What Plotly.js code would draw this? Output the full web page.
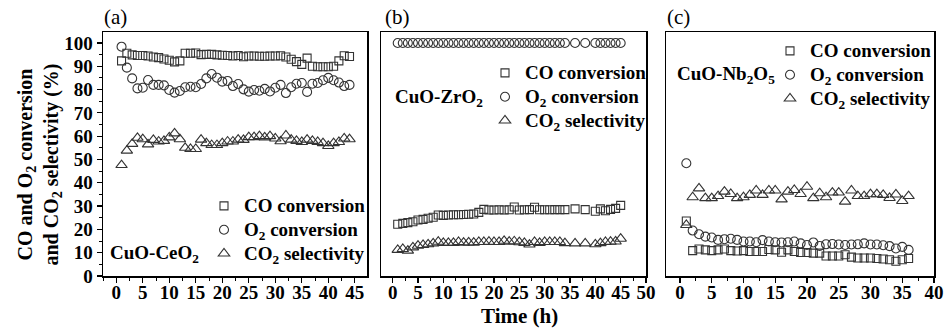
<!DOCTYPE html>
<html>
<head>
<meta charset="utf-8">
<script src="https://cdn.plot.ly/plotly-3.0.1.min.js"></script>
<style>html,body{margin:0;padding:0;background:#fff;}#chart{width:945px;height:328px;}</style>
</head>
<body>
<div id="chart"></div>
<script>
// ---- Data ----
const seriesNames = ["CO conversion", "O<sub>2</sub> conversion", "CO<sub>2</sub> selectivity"];
const catalystNames = ["CuO-CeO<sub>2</sub>", "CuO-ZrO<sub>2</sub>", "CuO-Nb<sub>2</sub>O<sub>5</sub>"];
const panelLabels = ["(a)", "(b)", "(c)"];

const timeA = [1,2,3,4,5,6,7,8,9,10,11,12,13,14,15,16,17,18,19,20,21,22,23,24,25,26,27,28,29,30,31,32,33,34,35,36,37,38,39,40,41,42,43,44];
const coA = [92.3,95.6,94.9,94.6,94.6,94.4,94,93.7,93.1,92.6, 91.9,92.3,95.6,95.6,95.7,95,95.1,95.1,94.9,94.7, 94.6,94.4,94.6,94.1,94.4,94.4,94.3,94.3,94.4,94.4, 94.5,94,93,92,90.8,93.5,90,89.8,89.8,89.8, 90,92.3,94.5,94.2];
const o2A = [98.4,89.4,84.8,80.5,80.8,84.1,82,82,81.8,79.8, 78.7,79.4,81,81.2,81,82.4,84.8,86.7,85.1,83.4, 83.7,81.5,82.4,80.1,79.1,79.8,79.5,80.3,79.2,80.8, 82,78.5,81,82.5,82.8,79,82.5,82.8,84,85, 84,83,81.5,82];
const co2A = [47.6,53.8,56.7,59.3,58.7,56.5,58.4,57.7,58,59.5, 61.2,58.7,55,54.5,54.5,58.5,57,56.2,56.2,57, 57.7,57.7,58.5,58.4,59.6,59.6,60,59.5,60,59, 57.8,60.3,58.5,58,57.5,58.5,58,57.5,57,55.8, 57,57.5,59,58.7];

const timeB = [1,2,3,4,5,6,7,8,9,10,11,12,13,14,15,16,17,18,19,20,21,22,23,24,25,26,27,28,29,30,31,32,33,34,36,38,40,41,42,43,44,45];
const coB = [22.2,22.6,22.9,23.3,24,24.3,24.8,25.2,26.2,26, 26.2,26.3,26.3,26.4,26.5,26.6,27.3,28.6,28.3,28.3, 28.4,28.3,28.4,29.6,28.3,28.4,28.5,29.5,28.4,28.4, 28.4,28.5,28.5,28.5,28.8,28.5,27.8,28.8,28,28.6,29,30.3];
const o2B = [100,100,100,100,100,100,100,100,100,100, 100,100,100,100,100,100,100,100,100,100, 100,100,100,100,100,100,100,100,100,100, 100,100,100,100,100,100,100,100,100,100,100,100];
const co2B = [11.2,11.6,10.9,12.3,13,13.3,13.6,14,14.7,14.2, 14.2,14.2,14.6,14.3,14.4,14.3,14.6,14.6,14.7,14.6, 14.6,15.1,14.7,14.9,14.5,14.2,13.5,14.6,14.2,14.6, 14.6,14.6,14.6,14.1,14,14,13.6,14.1,14.6,14.7,14.8,16];

const timeC = [1,2,3,4,5,6,7,8,9,10,11,12,13,14,15,16,17,18,19,20,21,22,23,24,25,26,27,28,29,30,31,32,33,34,35,36];
const coC = [23.6,10.9,11.6,11.2,10.9,11.2,11.6,10.9,10.7,10.9, 10.5,10.5,10.5,11.4,11.2,10.2,11.2,10.5,10.1,10.1, 9.8,9.8,8.6,8.6,8.6,9.1,8.1,7.7,7.7,7.7, 7.5,7.3,7,6.3,7,7.5];
const o2C = [48.4,19.5,17.9,16.9,16.5,15.5,15.8,16,15.5,14.8, 14.8,14.5,15.4,14.8,14.5,14.4,14.5,14.8,14,13.3, 14.4,12.9,13.6,13.7,13.5,13.3,13.5,13.6,14,13.5, 13.5,13.2,12.8,11.8,12.5,11.2];
const co2C = [21.9,33.8,37.6,33.4,33.4,34.3,36.2,35.2,33.4,33.8, 34.8,36.7,34.8,36.7,36.7,32.9,36.2,36.9,35.2,38.3, 33.4,35.5,33.8,35.8,35.8,31.9,36.7,34.3,34.3,35.1, 35.1,34.8,33.5,35,32.2,34.3];

const yTicks = [0,10,20,30,40,50,60,70,80,90,100];

// ---- Styling ----
const W = 945, H = 328;
const FONT = "Liberation Serif, Times New Roman, serif";
const ink = "#333";
const symbols = ["square-open", "circle-open", "triangle-up-open"];
const msizes = [8, 9, 10];
const px = v => v / W;
const py = v => 1 - v / H;

const panels = [
  {t: timeA, s: [coA, o2A, co2A], xa: "x", ya: "y", leg: "legend"},
  {t: timeB, s: [coB, o2B, co2B], xa: "x2", ya: "y2", leg: "legend2"},
  {t: timeC, s: [coC, o2C, co2C], xa: "x3", ya: "y3", leg: "legend3"}
];

const traces = [];
panels.forEach(p => {
  p.s.forEach((vals, i) => {
    traces.push({
      type: "scatter", mode: "markers", x: p.t, y: vals,
      xaxis: p.xa, yaxis: p.ya,
      name: '<span style="font-size:19px">' + seriesNames[i] + '</span>',
      legend: p.leg,
      marker: {symbol: symbols[i], size: msizes[i], color: ink, line: {color: ink, width: 1.1}},
      hoverinfo: "skip"
    });
  });
});

const tickFont = {family: FONT, size: 19, color: "#000", weight: "bold"};
const yDom = [py(276), py(32)];
function xAxis(dom, range, yref) {
  return {
    domain: dom, range: range, anchor: yref,
    tickmode: "linear", tick0: 0, dtick: 5,
    ticks: "outside", ticklen: 5, tickwidth: 1.2, tickcolor: "#000",
    ticklabelstandoff: -6,
    minor: {ticks: "outside", dtick: 2.5, ticklen: 3, tickwidth: 1, tickcolor: "#000"},
    showline: true, mirror: true, linecolor: "#000", linewidth: 1.5,
    showgrid: false, zeroline: false, tickfont: tickFont, fixedrange: true
  };
}
function yAxis(xref, showLabels) {
  return {
    domain: yDom, range: [0, 104.7], anchor: xref,
    tickmode: "array", tickvals: yTicks,
    ticks: showLabels ? "outside" : "", ticklen: 5, tickwidth: 1.2, tickcolor: "#000",
    minor: showLabels ? {ticks: "outside", dtick: 5, tick0: 0, ticklen: 3, tickwidth: 1, tickcolor: "#000"} : {ticks: ""},
    showticklabels: showLabels,
    showline: true, mirror: true, linecolor: "#000", linewidth: 1.5,
    showgrid: false, zeroline: false, tickfont: tickFont, fixedrange: true
  };
}

const legFont = {family: FONT, size: 16, color: "#000", weight: "bold"};
function legend(xp, yp) {
  return {x: px(xp), y: py(yp), xanchor: "left", yanchor: "top", bgcolor: "rgba(0,0,0,0)",
          borderwidth: 0, font: legFont, traceorder: "normal", itemclick: false, itemdoubleclick: false};
}

function ann(text, x, y, opts) {
  return Object.assign({
    text: text, x: px(x), y: py(y), xref: "paper", yref: "paper",
    showarrow: false, xanchor: "left", yanchor: "middle",
    font: {family: FONT, size: 19, color: "#000", weight: "bold"}
  }, opts || {});
}

const layout = {
  width: W, height: H,
  margin: {l: 0, r: 0, t: 0, b: 0},
  paper_bgcolor: "#fff", plot_bgcolor: "#fff",
  showlegend: true,
  xaxis: xAxis([px(103), px(367)], [-2.5, 47.3], "y"),
  yaxis: yAxis("x", true),
  xaxis2: xAxis([px(381), px(646)], [-2.3, 50], "y2"),
  yaxis2: yAxis("x2", false),
  xaxis3: xAxis([px(666), px(934)], [-2.2, 40], "y3"),
  yaxis3: yAxis("x3", false),
  legend: legend(204, 189),
  legend2: legend(485, 56),
  legend3: legend(770, 34),
  annotations: [
    ann(panelLabels[0], 102, 17, {font: {family: FONT, size: 21, color: "#000"}}),
    ann(panelLabels[1], 383, 17, {font: {family: FONT, size: 21, color: "#000"}}),
    ann(panelLabels[2], 665, 17, {font: {family: FONT, size: 21, color: "#000"}}),
    ann(catalystNames[0], 108, 254),
    ann(catalystNames[1], 393, 98),
    ann(catalystNames[2], 675, 75),
    ann("CO and O<sub>2</sub> conversion<br>and CO<sub>2</sub> selectivity (%)", 38.5, 165,
        {xanchor: "center", textangle: -90, font: {family: FONT, size: 20, color: "#000", weight: "bold"}}),
    ann("Time (h)", 519, 316, {xanchor: "center", font: {family: FONT, size: 21, color: "#000", weight: "bold"}})
  ]
};

Plotly.newPlot("chart", traces, layout, {staticPlot: true, displayModeBar: false});
</script>
</body>
</html>
